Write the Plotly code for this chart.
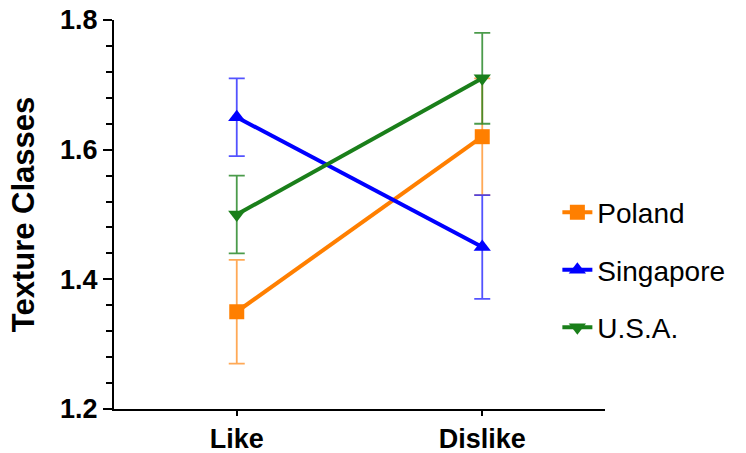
import plotly.graph_objects as go

categories = ["Like", "Dislike"]
series = ["Poland", "Singapore", "U.S.A."]
poland = [1.35, 1.62]
poland_err = [0.08, 0.09]
singapore = [1.65, 1.45]
singapore_err = [0.06, 0.08]
usa = [1.50, 1.71]
usa_err = [0.06, 0.07]
y_ticks = [1.2, 1.4, 1.6, 1.8]

colors = ["#FF7F00", "#0000FF", "#1A7F1A"]
err_colors = ["rgba(255,140,30,0.75)", "rgba(40,40,255,0.8)", "rgba(30,130,30,0.8)"]
symbols = ["square", "triangle-up", "triangle-down"]
values = [poland, singapore, usa]
errs = [poland_err, singapore_err, usa_err]

FONT = "Liberation Sans, Arial, sans-serif"

fig = go.Figure()
for name, v, e, c, ec, s in zip(series, values, errs, colors, err_colors, symbols):
    fig.add_trace(go.Scatter(
        x=categories, y=v, name=name, mode="lines+markers", legendgroup=name,
        line=dict(color=c, width=4),
        marker=dict(symbol=s, size=15, color=c),
        error_y=dict(type="data", array=e, visible=True, color=ec, thickness=1.8, width=8),
    ))

fig.update_layout(
    width=746, height=453,
    margin=dict(l=114, r=141, t=20, b=44),
    plot_bgcolor="white", paper_bgcolor="white",
    font=dict(family=FONT, color="black"),
    legend=dict(x=0.903, y=0.357, yanchor="middle", xanchor="left",
                font=dict(size=28, family=FONT), tracegroupgap=18, itemwidth=30,
                bgcolor="rgba(0,0,0,0)"),
    showlegend=True,
)
fig.update_xaxes(
    type="category", range=[-0.5, 1.5], showline=True, linecolor="black", linewidth=2,
    ticks="outside", ticklen=5, tickwidth=2, tickcolor="black",
    tickfont=dict(size=27, family=FONT, weight="bold"),
    showgrid=False, zeroline=False, automargin=False,
)
fig.update_yaxes(
    range=[1.2, 1.8], tickvals=y_ticks, ticktext=[f"{t:.1f}" for t in y_ticks],
    showline=True, linecolor="black", linewidth=2,
    ticks="outside", ticklen=9, tickwidth=2, tickcolor="black",
    minor=dict(dtick=0.04, ticks="outside", ticklen=6, tickwidth=2, tickcolor="black", showgrid=False),
    tickfont=dict(size=27, family=FONT, weight="bold"),
    title=dict(text="Texture Classes", font=dict(size=31, family=FONT, weight="bold"), standoff=16),
    showgrid=False, zeroline=False, automargin=False,
)

fig.write_html("out.html", config={"displayModeBar": False},
               post_script="document.body.style.margin='0';")
